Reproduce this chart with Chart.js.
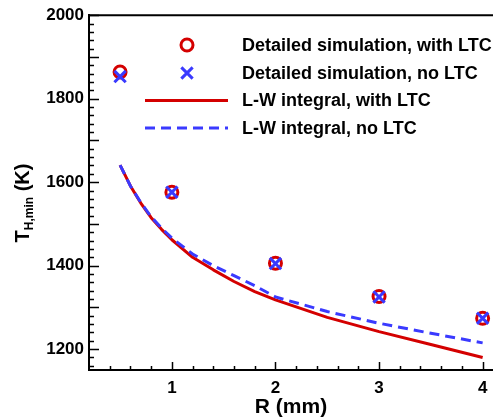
<!DOCTYPE html>
<html>
<head>
<meta charset="utf-8">
<script src="https://cdn.jsdelivr.net/npm/chart.js@4.4.1/dist/chart.umd.min.js"></script>
<style>
  html, body { margin: 0; padding: 0; background: #fff; }
  #chart { display: block; }
</style>
</head>
<body>
<canvas id="chart" width="493" height="420"></canvas>
<script>
// 详细模拟结果 (R in mm, T in K)
const rSim = [0.5, 1, 2, 3, 4];
const tSimLTC = [1864, 1576, 1406, 1326, 1274];
const tSimNoLTC = [1853, 1576, 1405, 1325, 1274];

// L-W 积分曲线
const rLW = [0.5, 0.6, 0.7, 0.8, 0.9, 1.0, 1.2, 1.4, 1.6, 1.8, 2.0, 2.5, 3.0, 3.5, 4.0];
const tLWLTC = [1641, 1591, 1550, 1515, 1487, 1462, 1420, 1390, 1362, 1338, 1318, 1276, 1242, 1211, 1180];
const tLWNoLTC = [1641, 1591, 1551, 1517, 1490, 1466, 1428, 1400, 1376, 1352, 1325, 1290, 1262, 1238, 1215];

const seriesNames = [
    'Detailed simulation, with LTC',
    'Detailed simulation, no LTC',
    'L-W integral, with LTC',
    'L-W integral, no LTC'
];
const xTickLabels = [1, 2, 3, 4];
const yTickLabels = [1200, 1400, 1600, 1800, 2000];

const RED = '#d40000';
const BLUE = '#3a3aff';
const FONT = '"Liberation Sans", Arial, Helvetica, sans-serif';

const toPoints = (xs, ys) => xs.map((x, i) => ({ x: x, y: ys[i] }));

// 边框 + 朝内的刻度线
const frameTicks = {
    id: 'frameTicks',
    beforeDatasetsDraw(chart) {
        const { ctx, chartArea: a, scales: { x, y } } = chart;
        ctx.save();
        ctx.strokeStyle = '#000';
        ctx.lineWidth = 2;
        ctx.beginPath();
        ctx.moveTo(a.left - 1, a.top);
        ctx.lineTo(a.right, a.top);
        ctx.stroke();

        ctx.lineWidth = 1.5;
        ctx.beginPath();
        for (let i = 58; i <= 100; i++) {
            const v = i * 20;
            const len = v % 100 === 0 ? 10 : 5;
            const py = Math.round(y.getPixelForValue(v)) + 0.5;
            ctx.moveTo(a.left, py);
            ctx.lineTo(a.left + len, py);
        }
        for (let i = 2; i <= 20; i++) {
            const v = i / 5;
            const len = i % 5 === 0 ? 8 : 4;
            const px = Math.round(x.getPixelForValue(v)) + 0.5;
            ctx.moveTo(px, a.bottom);
            ctx.lineTo(px, a.bottom - len);
        }
        ctx.stroke();
        ctx.restore();
    }
};

// 纵轴标题 (带下标)
const yTitle = {
    id: 'yTitle',
    afterDraw(chart) {
        const ctx = chart.ctx;
        const big = 'bold 20px ' + FONT;
        const small = 'bold 12px ' + FONT;
        ctx.save();
        ctx.translate(29, 203);
        ctx.rotate(-Math.PI / 2);
        ctx.fillStyle = '#000';
        ctx.textBaseline = 'alphabetic';
        ctx.font = big;
        const wT = ctx.measureText('T').width;
        const wK = ctx.measureText(' (K)').width;
        ctx.font = small;
        const wS = ctx.measureText('H,min').width;
        let x0 = -(wT + wS + wK) / 2;
        ctx.font = big;
        ctx.fillText('T', x0, 0);
        ctx.font = small;
        ctx.fillText('H,min', x0 + wT, 4);
        ctx.font = big;
        ctx.fillText(' (K)', x0 + wT + wS, 0);
        ctx.restore();
    }
};

// 图内图例
const innerLegend = {
    id: 'innerLegend',
    afterDraw(chart) {
        const ctx = chart.ctx;
        const rows = [45, 73, 100.5, 128];
        ctx.save();
        chart.data.datasets.forEach((ds, i) => {
            const yy = rows[i];
            ctx.strokeStyle = ds.borderColor;
            ctx.lineWidth = ds.borderWidth;
            if (ds.showLine) {
                ctx.setLineDash(ds.borderDash || []);
                ctx.beginPath();
                ctx.moveTo(145, yy);
                ctx.lineTo(228, yy);
                ctx.stroke();
                ctx.setLineDash([]);
            } else {
                ctx.fillStyle = 'rgba(0,0,0,0)';
                Chart.helpers.drawPoint(ctx, {
                    pointStyle: ds.pointStyle,
                    radius: ds.pointRadius,
                    rotation: 0,
                    borderWidth: ds.borderWidth
                }, 187, yy);
            }
            ctx.fillStyle = '#000';
            ctx.font = 'bold 18px ' + FONT;
            ctx.textBaseline = 'middle';
            ctx.fillText(ds.label, 242, yy + 1);
        });
        ctx.restore();
    }
};

new Chart(document.getElementById('chart'), {
    type: 'scatter',
    data: {
        datasets: [{
            label: seriesNames[0],
            data: toPoints(rSim, tSimLTC),
            showLine: false,
            pointStyle: 'circle',
            pointRadius: 6,
            borderColor: RED,
            backgroundColor: 'rgba(0,0,0,0)',
            borderWidth: 3,
            order: 2
        }, {
            label: seriesNames[1],
            data: toPoints(rSim, tSimNoLTC),
            showLine: false,
            pointStyle: 'crossRot',
            pointRadius: 8,
            borderColor: BLUE,
            backgroundColor: BLUE,
            borderWidth: 3,
            order: 1
        }, {
            label: seriesNames[2],
            data: toPoints(rLW, tLWLTC),
            showLine: true,
            pointRadius: 0,
            borderColor: RED,
            borderWidth: 3,
            tension: 0,
            borderJoinStyle: 'round',
            order: 4
        }, {
            label: seriesNames[3],
            data: toPoints(rLW, tLWNoLTC),
            showLine: true,
            pointRadius: 0,
            borderColor: BLUE,
            borderWidth: 3,
            borderDash: [10, 6],
            tension: 0,
            order: 3
        }]
    },
    options: {
        responsive: false,
        animation: false,
        layout: { autoPadding: false, padding: { left: 0, right: 0, top: 15, bottom: 0 } },
        plugins: {
            legend: { display: false },
            tooltip: { enabled: false }
        },
        scales: {
            x: {
                type: 'linear',
                min: 0.2,
                max: 4.1,
                afterBuildTicks: s => { s.ticks = xTickLabels.map(v => ({ value: v })); },
                afterFit: s => { s.height = 50; s.paddingLeft = 0; s.paddingRight = 0; },
                grid: { display: false, drawTicks: false },
                border: { display: true, color: '#000', width: 2 },
                ticks: {
                    color: '#000',
                    font: { family: FONT, size: 17, weight: 'bold' },
                    padding: 8,
                    maxRotation: 0,
                    autoSkip: false,
                    callback: v => String(v)
                },
                title: {
                    display: true,
                    text: 'R (mm)',
                    color: '#000',
                    font: { family: FONT, size: 21, weight: 'bold' },
                    padding: { top: 0, bottom: 0 }
                }
            },
            y: {
                type: 'linear',
                min: 1150,
                max: 2000,
                afterBuildTicks: s => { s.ticks = yTickLabels.map(v => ({ value: v })); },
                afterFit: s => { s.width = 89; },
                grid: { display: false, drawTicks: false },
                border: { display: true, color: '#000', width: 2 },
                ticks: {
                    color: '#000',
                    font: { family: FONT, size: 17, weight: 'bold' },
                    padding: 5,
                    callback: v => String(v)
                }
            }
        }
    },
    plugins: [frameTicks, yTitle, innerLegend]
});
</script>
</body>
</html>
